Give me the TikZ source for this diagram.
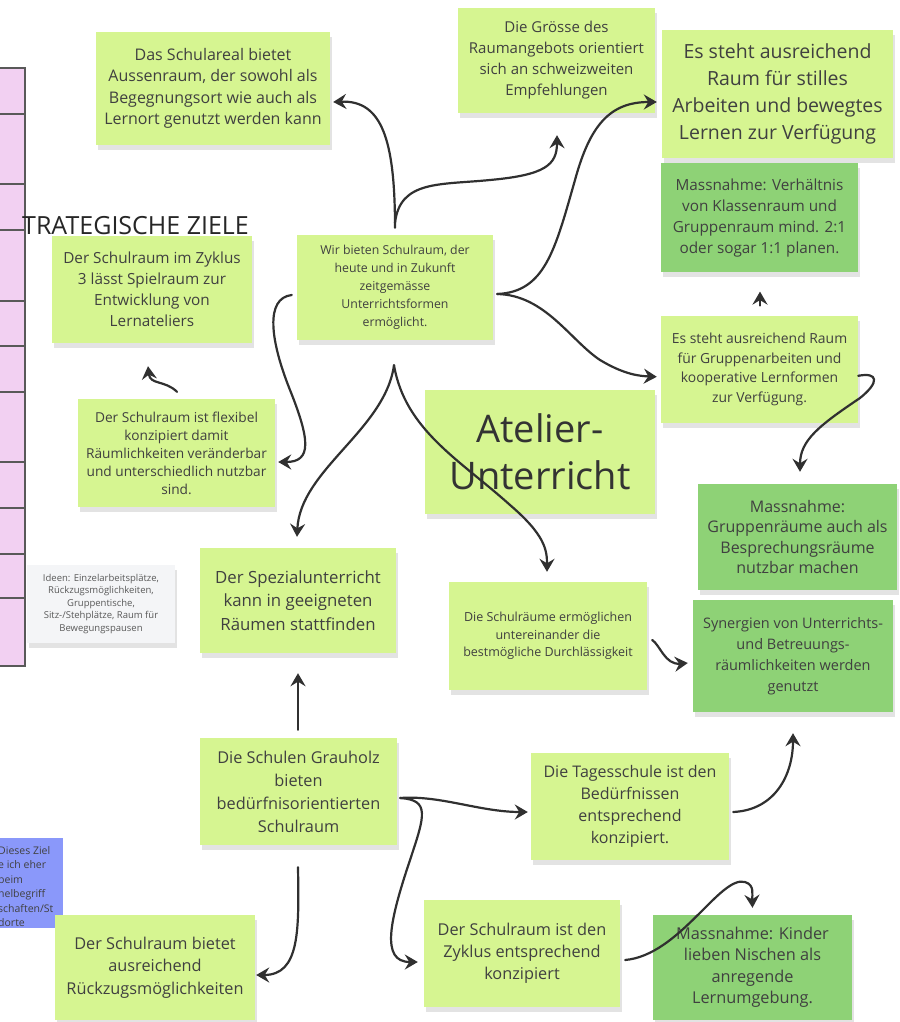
\documentclass[tikz,border=0pt]{standalone}
\usepackage{fontspec}
\setmainfont{Open Sans}
\usetikzlibrary{arrows.meta,positioning,calc,shadows}
\definecolor{notegreen}{RGB}{214,245,145}
\definecolor{measuregreen}{RGB}{142,210,118}
\definecolor{notetext}{RGB}{64,64,64}
\definecolor{linkgray}{RGB}{48,48,48}
\definecolor{goalpink}{RGB}{242,208,242}
\definecolor{remarkblue}{RGB}{138,152,250}
\definecolor{ideagray}{RGB}{244,245,247}
\newcommand{\setfs}[2]{\fontsize{#1}{#2}\selectfont}

\begin{document}
\begin{tikzpicture}[x=1pt, y=-1pt, node distance=5pt]
      \tikzstyle{note}=[rectangle,fill=notegreen,text=notetext,align=center,inner sep=3pt,drop shadow={shadow xshift=2pt,shadow yshift=-5pt,opacity=0.22}]
      \tikzstyle{measure}=[note,fill=measuregreen]
      \tikzstyle{link}=[draw=linkgray,line width=2.2pt,line cap=round,-{Stealth[length=13pt,width=15pt,inset=4.5pt]}]
      \fill[white] (0,0) rectangle (899,1022);
      \useasboundingbox (0,0) rectangle (899,1022);

      % column of goals at the left edge
      \fill[goalpink] (-5,68) rectangle (25,666);
      \draw[black!65,line width=1.2pt] (-5,68) rectangle (25,666);
      \foreach \y in {114,184,230,301,346,392,462,508,554,598}
        \draw[black!65,line width=1.2pt] (-5,\y) -- (25,\y);
      \node[anchor=base west,font=\setfs{25}{30},text=black!85,inner sep=0pt] (heading) at (22,234) {TRATEGISCHE ZIELE};

      % notes
      \node[note,minimum width=234pt,minimum height=113pt,font=\setfs{16}{21.5}] (areal) at (213,88.5) {Das Schulareal bietet\\Aussenraum, der sowohl als\\Begegnungsort wie auch als\\Lernort genutzt werden kann};
      \node[note,minimum width=197pt,minimum height=105pt,font=\setfs{15}{21}] (groesse) at (556.5,60.5) {Die Grösse des\\Raumangebots orientiert\\sich an schweizweiten\\Empfehlungen};
      \node[note,minimum width=231pt,minimum height=128pt,font=\setfs{19.5}{27}] (stilles) at (777.5,94) {Es steht ausreichend\\Raum für stilles\\Arbeiten und bewegtes\\Lernen zur Verfügung};
      \node[measure,minimum width=197pt,minimum height=109pt,font=\setfs{15.3}{21},anchor=north west,below right=5pt and -1pt of stilles.south west] (verh) {Massnahme: Verhältnis\\von Klassenraum und\\Gruppenraum mind. 2:1\\oder sogar 1:1 planen.};
      \node[note,minimum width=196pt,minimum height=105pt,font=\setfs{12.3}{18}] (wir) at (395,287.5) {Wir bieten Schulraum, der\\heute und in Zukunft\\zeitgemässe\\Unterrichtsformen\\ermöglicht.};
      \node[note,minimum width=200pt,minimum height=107pt,font=\setfs{15.3}{21}] (zyk3) at (152,289.5) {Der Schulraum im Zyklus\\3 lässt Spielraum zur\\Entwicklung von\\Lernateliers};
      \node[note,minimum width=197pt,minimum height=107pt,font=\setfs{13.9}{19.5},below=43pt of verh] (gruppen) {Es steht ausreichend Raum\\für Gruppenarbeiten und\\kooperative Lernformen\\zur Verfügung.};
      \node[note,minimum width=230pt,minimum height=124pt,font=\setfs{38}{47},text=black!80] (atelier) at (540,452) {Atelier-\\Unterricht};
      \node[note,minimum width=197pt,minimum height=108pt,font=\setfs{13.7}{18}] (flex) at (176.5,453) {Der Schulraum ist flexibel\\konzipiert damit\\Räumlichkeiten veränderbar\\und unterschiedlich nutzbar\\sind.};
      \node[measure,minimum width=199pt,minimum height=106pt,font=\setfs{16}{20.5}] (mgr) at (797.5,537) {Massnahme:\\Gruppenräume auch als\\Besprechungsräume\\nutzbar machen};
      \node[note,minimum width=196pt,minimum height=105pt,font=\setfs{16.8}{23.5}] (spezial) at (298,600.5) {Der Spezialunterricht\\kann in geeigneten\\Räumen stattfinden};
      \node[note,fill=ideagray,text=black!65,minimum width=148pt,minimum height=78pt,font=\setfs{9.5}{12.5}] (ideen) at (101,604) {Ideen: Einzelarbeitsplätze,\\Rückzugsmöglichkeiten,\\Gruppentische,\\Sitz-/Stehplätze, Raum für\\Bewegungspausen};
      \node[note,minimum width=198pt,minimum height=108pt,font=\setfs{12.5}{17.5}] (durch) at (548,636) {Die Schulräume ermöglichen\\untereinander die\\bestmögliche Durchlässigkeit};
      \node[measure,minimum width=200pt,minimum height=112pt,font=\setfs{14.5}{21}] (syn) at (793,656) {Synergien von Unterrichts-\\und Betreuungs-\\räumlichkeiten werden\\genutzt};
      \node[note,minimum width=197pt,minimum height=107pt,font=\setfs{16.3}{23}] (grau) at (298.5,791.5) {Die Schulen Grauholz\\bieten\\bedürfnisorientierten\\Schulraum};
      \node[note,minimum width=198pt,minimum height=107pt,font=\setfs{16}{22}] (tages) at (630,806.5) {Die Tagesschule ist den\\Bedürfnissen\\entsprechend\\konzipiert.};
      \node[rectangle,fill=remarkblue,text=black!75,minimum width=68pt,minimum height=90pt,anchor=north west,inner sep=0pt] (remark) at (-5,838) {};
      \node[anchor=north west,align=left,inner sep=0pt,font=\setfs{10.5}{14.5},text=black!75] (remarktext) at (-2,846) {Dieses Ziel\\e ich eher\\beim\\nelbegriff\\schaften/St\\dorte};
      \node[note,minimum width=200pt,minimum height=105pt,font=\setfs{16.3}{22.5}] (rueck) at (155,967.5) {Der Schulraum bietet\\ausreichend\\Rückzugsmöglichkeiten};
      \node[note,minimum width=196pt,minimum height=107pt,font=\setfs{16.3}{22}] (zyklus) at (522,953.5) {Der Schulraum ist den\\Zyklus entsprechend\\konzipiert};
      \node[measure,minimum width=199pt,minimum height=105pt,font=\setfs{16.3}{21.5}] (kinder) at (752.5,967.5) {Massnahme: Kinder\\lieben Nischen als\\anregende\\Lernumgebung.};

      % connectors
      \draw[link] ($(wir.north)+(0,-7)$) .. controls (395,140) and (382,100) .. ($(areal.east)+(3,13.5)$);
      \draw[link] ($(wir.north)+(0,-12)$) .. controls (400,180) and (440,185) .. (490,180) .. controls (545,175) and (557,165) .. ($(groesse.south)+(0.5,22)$);
      \draw[link] ($(wir.east)+(4,6.5)$) .. controls (545,292) and (555,250) .. (575,180) .. controls (590,125) and (610,102) .. ($(stilles.west)+(-5,8)$);
      \draw[link] ($(wir.east)+(4,6.5)$) .. controls (545,295) and (570,340) .. (600,360) .. controls (625,375) and (640,376) .. ($(gruppen.west)+(-4,7.5)$);
      \draw[link] ($(wir.west)+(-5,7.5)$) .. controls (265,298) and (270,340) .. (290,390) .. controls (310,440) and (312,462) .. ($(flex.east)+(3,9)$);
      \draw[link] ($(wir.south)+(-1,25)$) .. controls (385,430) and (300,470) .. ($(spezial.north)+(-1,-11)$);
      \draw[link] ($(wir.south)+(-1,25)$) .. controls (405,430) and (460,460) .. (510,505) .. controls (545,535) and (547,550) .. ($(durch.north)+(-1,-10)$);
      \draw[link] ($(flex.north)+(0.5,-7)$) .. controls (165,380) and (150,385) .. ($(zyk3.south)+(-4,23)$);
      \draw[link] ($(gruppen.north)+(0.5,-10)$) -- ($(verh.south)+(0.5,19)$);
      \draw[link] ($(gruppen.east)+(0,6.5)$) .. controls (878,372) and (880,382) .. (860,398) .. controls (820,425) and (800,440) .. ($(mgr.north)+(2.5,-12)$);
      \draw[link] ($(durch.east)+(5,4)$) .. controls (660,645) and (665,665) .. ($(syn.west)+(-5,7)$);
      \draw[link] ($(grau.north)+(-0.5,-8)$) -- ($(spezial.south)+(0,20)$);
      \draw[link] ($(grau.east)+(3,6.5)$) .. controls (440,795) and (480,812) .. ($(tages.west)+(-3,5.5)$);
      \draw[link] ($(grau.east)+(3,6.5)$) .. controls (430,800) and (425,815) .. (410,860) .. controls (390,920) and (380,962) .. ($(zyklus.west)+(-6,8.5)$);
      \draw[link] ($(tages.east)+(4,5.5)$) .. controls (775,810) and (793,775) .. ($(syn.south)+(0,21)$);
      \draw[link] ($(zyklus.east)+(5,6.5)$) .. controls (680,955) and (720,875) .. (745,882) .. controls (755,885) and (752,895) .. ($(kinder.north)+(0,-7)$);
      \draw[link] ($(grau.south)+(-0.5,22)$) .. controls (299,930) and (300,975) .. ($(rueck.east)+(1,7.5)$);

\end{tikzpicture}
\end{document}
